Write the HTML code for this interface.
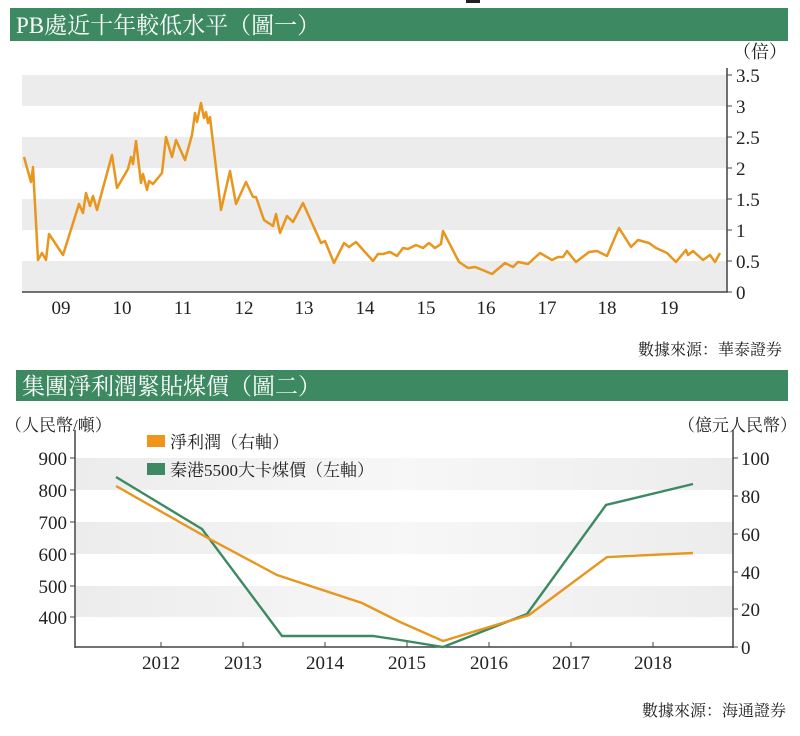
<!DOCTYPE html>
<html><head><meta charset="utf-8"><style>
body{margin:0;background:#fff;}
svg text{font-family:"Liberation Serif","Noto Serif CJK SC",serif;fill:#222;}
</style></head><body>
<svg width="800" height="731" viewBox="0 0 800 731" xmlns="http://www.w3.org/2000/svg">
<rect x="466" y="0" width="14" height="3" fill="#222"/>
<rect x="10" y="8" width="778" height="33" fill="#3d8a62"/>
<text x="16" y="33" font-size="23" style="fill:#fff">PB處近十年較低水平（圖一）</text>
<g fill="#ececec">
<rect x="22" y="75" width="705" height="31"/>
<rect x="22" y="137" width="705" height="31"/>
<rect x="22" y="199" width="705" height="31"/>
<rect x="22" y="261" width="705" height="31"/>
</g>
<line x1="22" y1="292" x2="728" y2="292" stroke="#444" stroke-width="1.5"/>
<line x1="727" y1="68" x2="727" y2="292" stroke="#444" stroke-width="1.5"/>
<g stroke="#444" stroke-width="1">
<line x1="727" y1="75" x2="732" y2="75"/><line x1="727" y1="106" x2="732" y2="106"/>
<line x1="727" y1="137" x2="732" y2="137"/><line x1="727" y1="168" x2="732" y2="168"/>
<line x1="727" y1="199" x2="732" y2="199"/><line x1="727" y1="230" x2="732" y2="230"/>
<line x1="727" y1="261" x2="732" y2="261"/><line x1="727" y1="292" x2="732" y2="292"/>
</g>
<g font-size="19">
<text x="733" y="58" font-size="18">（倍）</text>
<text x="736" y="82">3.5</text><text x="736" y="113">3</text>
<text x="736" y="144">2.5</text><text x="736" y="175">2</text>
<text x="736" y="206">1.5</text><text x="736" y="237">1</text>
<text x="736" y="268">0.5</text><text x="736" y="299">0</text>
</g>
<g font-size="19" text-anchor="middle">
<text x="61" y="314">09</text><text x="122" y="314">10</text><text x="183" y="314">11</text>
<text x="244" y="314">12</text><text x="304" y="314">13</text><text x="365" y="314">14</text>
<text x="426" y="314">15</text><text x="486" y="314">16</text><text x="547" y="314">17</text>
<text x="607" y="314">18</text><text x="669" y="314">19</text>
</g>
<polyline fill="none" stroke="#e8961e" stroke-width="2.5" stroke-linejoin="round" points="24,157 31,182 33,167 38,260 42,253 46,260 49,234 63,255 79,204 83,213 86,193 90,206 93,196 97,210 112,155 117,188 128,169 131,157 133,164 136,141 141,183 143,174 147,190 149,181 153,184 162,173 166,137 172,157 176,140 185,160 192,135 195,113 197,122 201,103 204,118 206,112 208,123 210,117 221,210 230,171 236,204 246,182 253,197 256,197 264,220 273,226 276,214 280,233 287,216 293,222 303,203 321,243 325,241 334,263 344,243 349,247 356,242 373,261 378,254 383,254 390,252 397,256 403,248 408,249 416,245 423,248 429,243 435,248 441,244 443,231 459,262 468,268 475,267 485,271 492,274 505,263 513,267 518,262 528,264 540,253 552,260 558,257 563,257 567,251 576,262 589,252 597,251 607,256 619,228 631,247 638,240 649,243 656,248 667,253 676,262 686,250 688,255 693,251 703,260 710,255 715,262 720,253"/>
<text x="782" y="355" font-size="16" text-anchor="end">數據來源：華泰證券</text>

<rect x="16" y="370" width="772" height="31" fill="#3d8a62"/>
<text x="22" y="394" font-size="23" style="fill:#fff">集團淨利潤緊貼煤價（圖二）</text>
<defs><linearGradient id="g" x1="0" x2="1"><stop offset="0" stop-color="#ececec"/><stop offset="0.5" stop-color="#f7f7f7"/><stop offset="1" stop-color="#ececec"/></linearGradient></defs>
<g fill="url(#g)">
<rect x="76" y="458" width="657" height="32"/>
<rect x="76" y="522" width="657" height="32"/>
<rect x="76" y="586" width="657" height="31"/>
</g>
<line x1="75" y1="430" x2="75" y2="648" stroke="#444" stroke-width="1.5"/>
<line x1="733" y1="430" x2="733" y2="648" stroke="#444" stroke-width="1.5"/>
<line x1="75" y1="647" x2="733" y2="647" stroke="#444" stroke-width="1.5"/>
<g stroke="#444">
<line x1="70" y1="458" x2="75" y2="458"/><line x1="70" y1="490" x2="75" y2="490"/>
<line x1="70" y1="522" x2="75" y2="522"/><line x1="70" y1="554" x2="75" y2="554"/>
<line x1="70" y1="586" x2="75" y2="586"/><line x1="70" y1="617" x2="75" y2="617"/>
<line x1="733" y1="458" x2="738" y2="458"/><line x1="733" y1="496" x2="738" y2="496"/>
<line x1="733" y1="534" x2="738" y2="534"/><line x1="733" y1="572" x2="738" y2="572"/>
<line x1="733" y1="609" x2="738" y2="609"/><line x1="733" y1="647" x2="738" y2="647"/>
<line x1="161" y1="647" x2="161" y2="642"/><line x1="243" y1="647" x2="243" y2="642"/>
<line x1="325" y1="647" x2="325" y2="642"/><line x1="407" y1="647" x2="407" y2="642"/>
<line x1="489" y1="647" x2="489" y2="642"/><line x1="571" y1="647" x2="571" y2="642"/>
<line x1="653" y1="647" x2="653" y2="642"/>
</g>
<g font-size="19" text-anchor="end">
<text x="67" y="465">900</text><text x="67" y="497">800</text><text x="67" y="529">700</text>
<text x="67" y="561">600</text><text x="67" y="593">500</text><text x="67" y="624">400</text>
</g>
<g font-size="19">
<text x="741" y="465">100</text><text x="741" y="503">80</text><text x="741" y="541">60</text>
<text x="741" y="579">40</text><text x="741" y="616">20</text><text x="741" y="654">0</text>
</g>
<g font-size="19" text-anchor="middle">
<text x="161" y="669">2012</text><text x="243" y="669">2013</text><text x="325" y="669">2014</text>
<text x="407" y="669">2015</text><text x="489" y="669">2016</text><text x="571" y="669">2017</text>
<text x="653" y="669">2018</text>
</g>
<text x="5" y="431" font-size="17">（人民幣/噸）</text>
<text x="797" y="431" font-size="17" text-anchor="end">（億元人民幣）</text>
<rect x="147" y="435" width="18" height="12" fill="#f0941a"/>
<text x="170" y="448" font-size="17">淨利潤（右軸）</text>
<rect x="147" y="463" width="18" height="12" fill="#3d8a62"/>
<text x="170" y="476" font-size="17">秦港5500大卡煤價（左軸）</text>
<polyline fill="none" stroke="#3d8a62" stroke-width="2.4" points="116,477 202,529 282,636 373,636 400,640 443,647 527,614 606,505 693,484"/>
<polyline fill="none" stroke="#e8961e" stroke-width="2.4" points="116,486 206,537 277,575 362,603 400,622 443,641 529,615 607,557 693,553"/>
<text x="786" y="716" font-size="16" text-anchor="end">數據來源：海通證券</text>
</svg>
</body></html>
